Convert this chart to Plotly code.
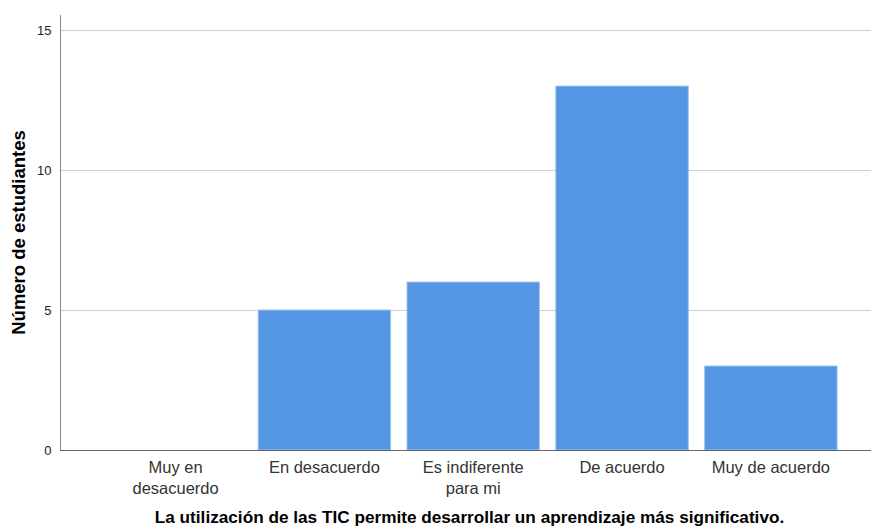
import plotly.graph_objects as go

categories = ["Muy en<br>desacuerdo", "En desacuerdo", "Es indiferente<br>para mi", "De acuerdo", "Muy de acuerdo"]
counts = [0, 5, 6, 13, 3]
y_ticks = [0, 5, 10, 15]

fig = go.Figure()
fig.add_trace(
    go.Bar(
        x=categories,
        y=counts,
        marker={'color': '#5596E4',
                'line': {'color': '#9CC2F0', 'width': [0 if c == 0 else 1 for c in counts]}},
        width=0.89
    )
)

# the html page has an 8px body margin, so the figure is a bit smaller
fig.update_layout(
    width=871,
    height=521,
    margin={'l': 53, 'r': 1, 't': 7, 'b': 79},
    plot_bgcolor='white',
    paper_bgcolor='white',
    font={'family': 'Liberation Sans, Arial, sans-serif', 'color': '#222'},
    showlegend=False
)
fig.update_xaxes(
    range=[-0.77, 4.72],
    automargin=False,
    showline=True,
    linecolor='#666',
    linewidth=1,
    showgrid=False,
    ticks='',
    ticklabelstandoff=2,
    tickfont={'size': 16.5, 'color': '#333'},
    title={'text': '<b>La utilización de las TIC permite desarrollar un aprendizaje más significativo.</b>',
           'font': {'size': 17.2, 'color': '#000'}, 'standoff': 14}
)
fig.update_yaxes(
    range=[0, 15.54],
    automargin=False,
    tickvals=y_ticks,
    showline=True,
    linecolor='#888',
    linewidth=1,
    showgrid=True,
    gridcolor='#cfcfcf',
    zeroline=False,
    ticks='',
    ticklabelstandoff=6,
    tickfont={'size': 13, 'color': '#222'},
    title={'text': '<b>Número de estudiantes</b>', 'font': {'size': 18.5, 'color': '#000'}, 'standoff': 10}
)

fig.write_html("out.html")
